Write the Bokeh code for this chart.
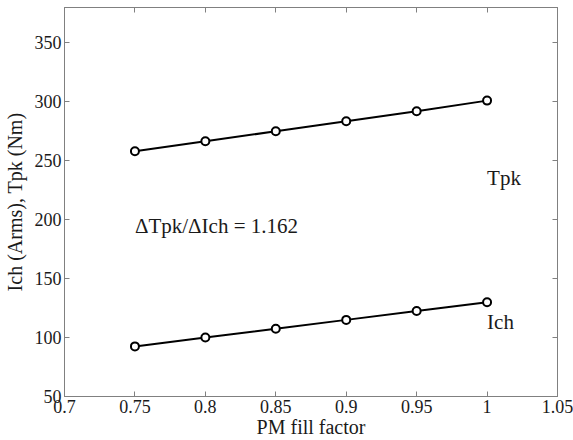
from bokeh.plotting import figure
from bokeh.models import LinearAxis, Range1d, FixedTicker, Label
from bokeh.embed import file_html
from bokeh.resources import INLINE

fill_factor = [0.75, 0.80, 0.85, 0.90, 0.95, 1.00]
tpk = [258.0, 266.5, 275.0, 283.5, 292.0, 301.0]
ich = [92.5, 100.0, 107.5, 115.0, 122.5, 130.0]
x_ticks = [0.7, 0.75, 0.8, 0.85, 0.9, 0.95, 1.0, 1.05]
y_ticks = [50, 100, 150, 200, 250, 300, 350]
x_labels = {0.7: "0.7", 0.75: "0.75", 0.8: "0.8", 0.85: "0.85", 0.9: "0.9", 0.95: "0.95", 1.0: "1", 1.05: "1.05"}

FONT = "Liberation Serif"
AX = "#808080"
TXT = "#1a1a1a"

p = figure(width=573, height=440, output_backend="svg", toolbar_location=None,
           x_range=Range1d(0.7, 1.05), y_range=Range1d(50, 380),
           min_border_left=5, min_border_right=16, min_border_top=7, min_border_bottom=0)
p.grid.visible = False
p.outline_line_color = AX
p.background_fill_color = "white"
p.border_fill_color = "white"

for ax in p.xaxis:
    ax.ticker = FixedTicker(ticks=x_ticks)
    ax.major_label_overrides = x_labels
for ax in p.yaxis:
    ax.ticker = FixedTicker(ticks=y_ticks)

for ax in list(p.xaxis) + list(p.yaxis):
    ax.axis_line_color = AX
    ax.major_tick_line_color = AX
    ax.major_tick_in = 5
    ax.major_tick_out = 0
    ax.minor_tick_line_color = None
    ax.major_label_text_font = FONT
    ax.major_label_text_font_size = "18px"
    ax.major_label_text_color = TXT
    ax.axis_label_text_font = FONT
    ax.axis_label_text_font_size = "20px"
    ax.axis_label_text_font_style = "normal"
    ax.axis_label_text_color = TXT
    ax.major_label_standoff = 3

p.xaxis.axis_label = "PM fill factor"
p.yaxis.axis_label = "Ich (Arms), Tpk (Nm)"
p.xaxis.axis_label_standoff = 0
p.yaxis.axis_label_standoff = 6

right = LinearAxis(ticker=FixedTicker(ticks=y_ticks),
                   major_label_overrides={t: "" for t in y_ticks},
                   major_label_standoff=0, major_tick_in=5, major_tick_out=0,
                   axis_line_color=AX, major_tick_line_color=AX, minor_tick_line_color=None)
top = LinearAxis(ticker=FixedTicker(ticks=x_ticks),
                 major_label_overrides={t: "" for t in x_ticks},
                 major_label_standoff=0, major_tick_in=5, major_tick_out=0,
                 axis_line_color=AX, major_tick_line_color=AX, minor_tick_line_color=None)
p.add_layout(right, "right")
p.add_layout(top, "above")

for series in (tpk, ich):
    p.line(fill_factor, series, line_color="black", line_width=2)
    p.scatter(fill_factor, series, marker="circle", size=8, fill_color="white",
              line_color="black", line_width=2)

p.add_layout(Label(x=1.0, y=235, text="Tpk", text_font=FONT, text_font_size="21px",
                   text_color=TXT, text_baseline="middle"))
p.add_layout(Label(x=1.0, y=113, text="Ich", text_font=FONT, text_font_size="21px",
                   text_color=TXT, text_baseline="middle"))
p.add_layout(Label(x=0.75, y=195, text="\u0394Tpk/\u0394Ich = 1.162", text_font=FONT,
                   text_font_size="21px", text_color=TXT, text_baseline="middle"))

open("out.html", "w").write(file_html(p, INLINE))
